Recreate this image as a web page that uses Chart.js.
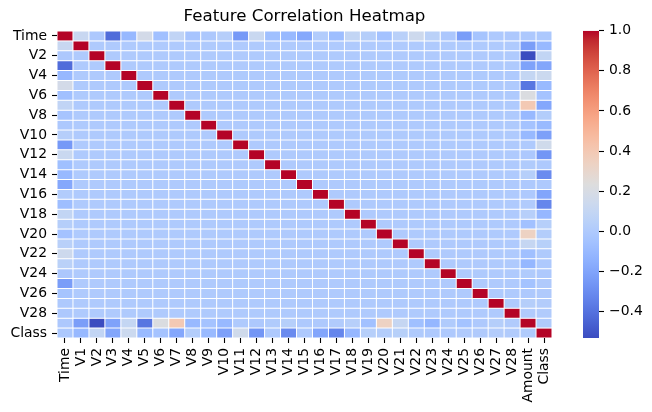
<!DOCTYPE html>
<html><head><meta charset="utf-8">
<script src="https://cdn.jsdelivr.net/npm/chart.js@4"></script>
<style>
html,body{margin:0;padding:0;background:#fff;width:652px;height:412px;overflow:hidden}
#wrapA{position:absolute;left:0;top:0;width:652px;height:412px}
#wrapB{position:absolute;left:570px;top:0;width:82px;height:412px}
canvas{display:block}
</style></head><body>
<div id="wrapA"><canvas id="heat" width="652" height="412"></canvas></div>
<div id="wrapB"><canvas id="bar" width="82" height="412"></canvas></div>
<script>
const features=["Time","V1","V2","V3","V4","V5","V6","V7","V8","V9","V10","V11","V12","V13","V14","V15","V16","V17","V18","V19","V20","V21","V22","V23","V24","V25","V26","V27","V28","Amount","Class"];
const rowTime=[1,.117,-.011,-.42,-.105,.173,-.063,.085,-.037,-.009,.031,-.248,.124,-.066,-.099,-.183,.012,-.073,.09,.029,-.051,.045,.144,.051,-.016,-.233,-.041,-.005,-.009,-.011,-.012];
const rowV1=[.117,1,0,0,0,0,0,0,0,0,0,0,0,0,0,0,0,0,0,0,0,0,0,0,0,0,0,0,0,-.228,-.101];
const rowV2=[-.011,0,1,0,0,0,0,0,0,0,0,0,0,0,0,0,0,0,0,0,0,0,0,0,0,0,0,0,0,-.531,.091];
const rowV3=[-.42,0,0,1,0,0,0,0,0,0,0,0,0,0,0,0,0,0,0,0,0,0,0,0,0,0,0,0,0,-.211,-.193];
const rowV4=[-.105,0,0,0,1,0,0,0,0,0,0,0,0,0,0,0,0,0,0,0,0,0,0,0,0,0,0,0,0,.099,.133];
const rowV5=[.173,0,0,0,0,1,0,0,0,0,0,0,0,0,0,0,0,0,0,0,0,0,0,0,0,0,0,0,0,-.386,-.095];
const rowV6=[-.063,0,0,0,0,0,1,0,0,0,0,0,0,0,0,0,0,0,0,0,0,0,0,0,0,0,0,0,0,.216,-.044];
const rowV7=[.085,0,0,0,0,0,0,1,0,0,0,0,0,0,0,0,0,0,0,0,0,0,0,0,0,0,0,0,0,.397,-.187];
const rowV8=[-.037,0,0,0,0,0,0,0,1,0,0,0,0,0,0,0,0,0,0,0,0,0,0,0,0,0,0,0,0,-.103,.02];
const rowV9=[-.009,0,0,0,0,0,0,0,0,1,0,0,0,0,0,0,0,0,0,0,0,0,0,0,0,0,0,0,0,-.044,-.098];
const rowV10=[.031,0,0,0,0,0,0,0,0,0,1,0,0,0,0,0,0,0,0,0,0,0,0,0,0,0,0,0,0,-.102,-.217];
const rowV11=[-.248,0,0,0,0,0,0,0,0,0,0,1,0,0,0,0,0,0,0,0,0,0,0,0,0,0,0,0,0,0,.155];
const rowV12=[.124,0,0,0,0,0,0,0,0,0,0,0,1,0,0,0,0,0,0,0,0,0,0,0,0,0,0,0,0,-.01,-.261];
const rowV13=[-.066,0,0,0,0,0,0,0,0,0,0,0,0,1,0,0,0,0,0,0,0,0,0,0,0,0,0,0,0,.005,-.005];
const rowV14=[-.099,0,0,0,0,0,0,0,0,0,0,0,0,0,1,0,0,0,0,0,0,0,0,0,0,0,0,0,0,.034,-.303];
const rowV15=[-.183,0,0,0,0,0,0,0,0,0,0,0,0,0,0,1,0,0,0,0,0,0,0,0,0,0,0,0,0,-.003,-.004];
const rowV16=[.012,0,0,0,0,0,0,0,0,0,0,0,0,0,0,0,1,0,0,0,0,0,0,0,0,0,0,0,0,-.004,-.197];
const rowV17=[-.073,0,0,0,0,0,0,0,0,0,0,0,0,0,0,0,0,1,0,0,0,0,0,0,0,0,0,0,0,.007,-.326];
const rowV18=[.09,0,0,0,0,0,0,0,0,0,0,0,0,0,0,0,0,0,1,0,0,0,0,0,0,0,0,0,0,.036,-.111];
const rowV19=[.029,0,0,0,0,0,0,0,0,0,0,0,0,0,0,0,0,0,0,1,0,0,0,0,0,0,0,0,0,-.056,.035];
const rowV20=[-.051,0,0,0,0,0,0,0,0,0,0,0,0,0,0,0,0,0,0,0,1,0,0,0,0,0,0,0,0,.339,.02];
const rowV21=[.045,0,0,0,0,0,0,0,0,0,0,0,0,0,0,0,0,0,0,0,0,1,0,0,0,0,0,0,0,.106,.04];
const rowV22=[.144,0,0,0,0,0,0,0,0,0,0,0,0,0,0,0,0,0,0,0,0,0,1,0,0,0,0,0,0,-.065,.001];
const rowV23=[.051,0,0,0,0,0,0,0,0,0,0,0,0,0,0,0,0,0,0,0,0,0,0,1,0,0,0,0,0,-.113,-.003];
const rowV24=[-.016,0,0,0,0,0,0,0,0,0,0,0,0,0,0,0,0,0,0,0,0,0,0,0,1,0,0,0,0,.005,-.007];
const rowV25=[-.233,0,0,0,0,0,0,0,0,0,0,0,0,0,0,0,0,0,0,0,0,0,0,0,0,1,0,0,0,-.048,.003];
const rowV26=[-.041,0,0,0,0,0,0,0,0,0,0,0,0,0,0,0,0,0,0,0,0,0,0,0,0,0,1,0,0,-.003,.004];
const rowV27=[-.005,0,0,0,0,0,0,0,0,0,0,0,0,0,0,0,0,0,0,0,0,0,0,0,0,0,0,1,0,.029,.018];
const rowV28=[-.009,0,0,0,0,0,0,0,0,0,0,0,0,0,0,0,0,0,0,0,0,0,0,0,0,0,0,0,1,.01,.01];
const rowAmount=[-.011,-.228,-.531,-.211,.099,-.386,.216,.397,-.103,-.044,-.102,0,-.01,.005,.034,-.003,-.004,.007,.036,-.056,.339,.106,-.065,-.113,.005,-.048,-.003,.029,.01,1,.006];
const rowClass=[-.012,-.101,.091,-.193,.133,-.095,-.044,-.187,.02,-.098,-.217,.155,-.261,-.005,-.303,-.004,-.197,-.326,-.111,.035,.02,.04,.001,-.003,-.007,.003,.004,.018,.01,.006,1];
const matrix=[rowTime,rowV1,rowV2,rowV3,rowV4,rowV5,rowV6,rowV7,rowV8,rowV9,rowV10,rowV11,rowV12,rowV13,rowV14,rowV15,rowV16,rowV17,rowV18,rowV19,rowV20,rowV21,rowV22,rowV23,rowV24,rowV25,rowV26,rowV27,rowV28,rowAmount,rowClass];
const colorbarTicks=[-0.4,-0.2,0,0.2,0.4,0.6,0.8,1];
const vMin=-0.532, vMax=1;
const coolwarm=[[59,76,192],[68,90,204],[77,104,215],[87,117,225],[98,130,234],[108,142,241],[119,154,247],[130,165,251],[141,176,254],[152,185,255],[163,194,255],[174,201,253],[184,208,249],[194,213,244],[204,217,238],[213,219,230],[221,221,221],[229,216,209],[236,211,197],[241,204,185],[245,196,173],[247,187,160],[247,177,148],[247,166,135],[244,154,123],[241,141,111],[236,127,99],[229,112,88],[222,96,77],[213,80,66],[203,62,56],[192,40,47],[180,4,38]];
function colorOf(v){
  const t=Math.max(0,Math.min(1,(v-vMin)/(vMax-vMin)))*(coolwarm.length-1);
  const i=Math.min(coolwarm.length-2,Math.floor(t)),f=t-i,a=coolwarm[i],b=coolwarm[i+1];
  return `rgb(${a.map((c,k)=>Math.round(c+(b[k]-c)*f)).join(",")})`;
}
const FONT="'DejaVu Sans'";
Chart.defaults.font.family=FONT;
Chart.defaults.color="#000";
const tickColor="#000";

new Chart(document.getElementById("heat"),{
  type:"bar",
  data:{labels:features,datasets:matrix.map((row,r)=>({
    label:features[r],
    values:row,
    data:row.map(()=>[r,r+1]),
    backgroundColor:row.map(colorOf),
    borderColor:"#fff",borderWidth:0.5,borderSkipped:false,inflateAmount:0,
    barPercentage:1,categoryPercentage:1,grouped:false
  }))},
  options:{
    responsive:false,animation:false,events:[],
    layout:{padding:{left:0,right:100,top:0,bottom:0}},
    plugins:{legend:{display:false},tooltip:{enabled:false},
      title:{display:true,fullSize:false,text:"Feature Correlation Heatmap",color:"#000",
        font:{size:16.67,weight:"normal",family:FONT},padding:{top:7,bottom:4}}},
    scales:{
      x:{type:"category",offset:true,
        border:{display:false},
        grid:{offset:false,drawOnChartArea:false,drawTicks:true,tickLength:5,tickWidth:1.1,tickColor},
        ticks:{autoSkip:false,minRotation:90,maxRotation:90,font:{size:13.9},color:"#000",padding:5},
        afterFit(s){s.height=74;}},
      y:{type:"linear",reverse:true,min:0,max:31,
        border:{display:false},
        grid:{drawOnChartArea:false,drawTicks:true,tickLength:5,tickWidth:1.1,tickColor},
        afterBuildTicks(s){s.ticks=features.map((f,i)=>({value:i+0.5})).filter((t,i)=>i%2===0);},
        ticks:{autoSkip:false,font:{size:13.9},color:"#000",padding:5,callback(v){return features[Math.round(v-0.5)];}},
        afterFit(s){s.width=57;}}
    }
  }
});

new Chart(document.getElementById("bar"),{
  type:"bar",
  data:{labels:["corr"],datasets:[{data:[[vMin,vMax]],
    backgroundColor(ctx){
      const c=ctx.chart; if(!c.chartArea)return "#000";
      const y=c.scales.y, g=c.ctx.createLinearGradient(0,y.getPixelForValue(vMin),0,y.getPixelForValue(vMax));
      coolwarm.forEach((a,i)=>g.addColorStop(i/(coolwarm.length-1),`rgb(${a.join(",")})`));
      return g;
    },
    borderWidth:0,inflateAmount:0,barPercentage:1,categoryPercentage:1}]},
  options:{
    responsive:false,animation:false,events:[],
    layout:{padding:{left:13,right:0,top:30.7,bottom:74}},
    plugins:{legend:{display:false},tooltip:{enabled:false},title:{display:false}},
    scales:{
      x:{display:false},
      y:{position:"right",min:vMin,max:vMax,
        border:{display:false},
        grid:{drawOnChartArea:false,drawTicks:true,tickLength:5,tickWidth:1.1,tickColor},
        afterBuildTicks(s){s.ticks=colorbarTicks.map(v=>({value:v}));},
        ticks:{font:{size:13.9},color:"#000",padding:5,callback(v){return (v<0?"\u2212":"")+Math.abs(v).toFixed(1);}},
        afterFit(s){s.width=53;}}
    }
  }
});
</script>
</body></html>
